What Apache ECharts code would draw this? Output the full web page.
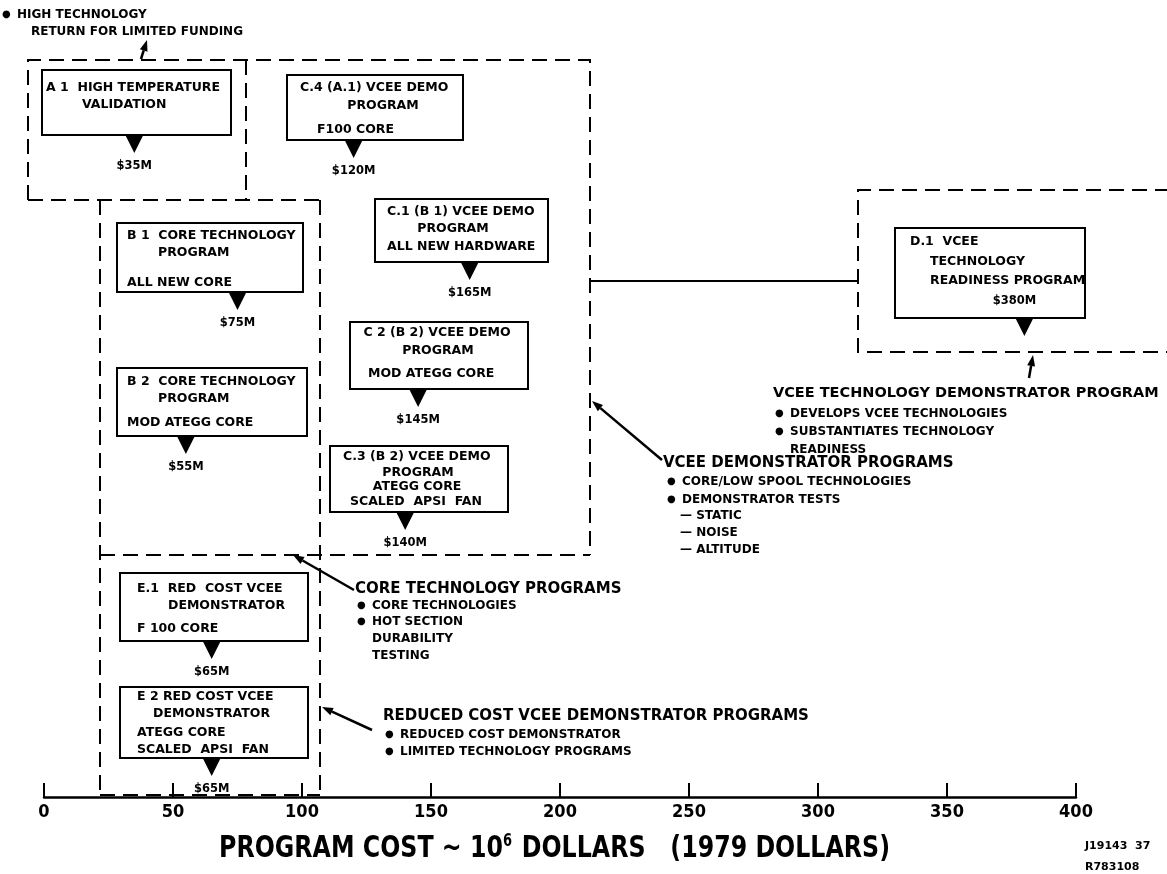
<!DOCTYPE html>
<html><head><meta charset="utf-8">
<script src="https://cdn.jsdelivr.net/npm/echarts@6/dist/echarts.min.js"></script>
<style>html,body{margin:0;padding:0;background:#fff}#c{width:1167px;height:874px}</style>
</head><body><div id="c"></div>
<script>
// ---------- DATA ----------
const programs = ['A.1','C.4','C.1','B.1','B.2','C.2','C.3','D.1','E.1','E.2'];
const costs    = [35, 120, 165, 75, 55, 145, 140, 380, 65, 65];   // program cost, $M (1979)
const xTickValues = [0, 50, 100, 150, 200, 250, 300, 350, 400];
const axisTitleParts = ['PROGRAM COST ~ 10', '6', ' DOLLARS   (1979 DOLLARS)'];
const refCodes = ['J19143  37', 'R783108'];

const boxText = {
  'A.1': ['A 1  HIGH TEMPERATURE', 'VALIDATION'],
  'C.4': ['C.4 (A.1) VCEE DEMO', 'PROGRAM', 'F100 CORE'],
  'C.1': ['C.1 (B 1) VCEE DEMO', 'PROGRAM', 'ALL NEW HARDWARE'],
  'B.1': ['B 1  CORE TECHNOLOGY', 'PROGRAM', 'ALL NEW CORE'],
  'B.2': ['B 2  CORE TECHNOLOGY', 'PROGRAM', 'MOD ATEGG CORE'],
  'C.2': ['C 2 (B 2) VCEE DEMO', 'PROGRAM', 'MOD ATEGG CORE'],
  'C.3': ['C.3 (B 2) VCEE DEMO', 'PROGRAM', 'ATEGG CORE', 'SCALED  APSI  FAN'],
  'D.1': ['D.1  VCEE', 'TECHNOLOGY', 'READINESS PROGRAM'],
  'E.1': ['E.1  RED  COST VCEE', 'DEMONSTRATOR', 'F 100 CORE'],
  'E.2': ['E 2 RED COST VCEE', 'DEMONSTRATOR', 'ATEGG CORE', 'SCALED  APSI  FAN']
};
const noteTop = ['HIGH TECHNOLOGY', 'RETURN FOR LIMITED FUNDING'];
const noteTech = ['VCEE TECHNOLOGY DEMONSTRATOR PROGRAM', 'DEVELOPS VCEE TECHNOLOGIES', 'SUBSTANTIATES TECHNOLOGY', 'READINESS'];
const noteDemo = ['VCEE DEMONSTRATOR PROGRAMS', 'CORE/LOW SPOOL TECHNOLOGIES', 'DEMONSTRATOR TESTS', '— STATIC', '— NOISE', '— ALTITUDE'];
const noteCore = ['CORE TECHNOLOGY PROGRAMS', 'CORE TECHNOLOGIES', 'HOT SECTION', 'DURABILITY', 'TESTING'];
const noteRed  = ['REDUCED COST VCEE DEMONSTRATOR PROGRAMS', 'REDUCED COST DEMONSTRATOR', 'LIMITED TECHNOLOGY PROGRAMS'];

// ---------- LAYOUT (pixel positions, not data) ----------
const layout = {
  'A.1': {rect:[42,70,231,135],  lines:[[46,88,'left'],[82,105,'left']]},
  'C.4': {rect:[287,75,463,140], lines:[[300,88,'left'],[383,106,'center'],[317,130,'left']]},
  'C.1': {rect:[375,199,548,262],lines:[[387,212,'left'],[453,229,'center'],[387,247,'left']]},
  'B.1': {rect:[117,223,303,292],lines:[[127,236,'left'],[158,253,'left'],[127,283,'left']]},
  'B.2': {rect:[117,368,307,436],lines:[[127,382,'left'],[158,399,'left'],[127,423,'left']]},
  'C.2': {rect:[350,322,528,389],lines:[[437,333,'center'],[438,351,'center'],[368,374,'left']]},
  'C.3': {rect:[330,446,508,512],lines:[[343,457,'left'],[418,473,'center'],[417,487,'center'],[350,502,'left']]},
  'D.1': {rect:[895,228,1085,318],lines:[[910,242,'left'],[930,262,'left'],[930,281,'left']]},
  'E.1': {rect:[120,573,308,641],lines:[[137,589,'left'],[168,606,'left'],[137,629,'left']]},
  'E.2': {rect:[120,687,308,758],lines:[[137,697,'left'],[153,714,'left'],[137,733,'left'],[137,750,'left']]}
};
const TRI = 18;

const FONT = "'DejaVu Sans', 'Liberation Sans', Arial, sans-serif";
const NARROW = "'DejaVu Sans Condensed', 'DejaVu Sans', sans-serif";

function txt(t, x, y, size, align, weight) {
  align = align || 'left';
  return {type:'text', silent:true, z:10,
    style:{text:t, x:x, y:y, font:(weight||'bold') + ' ' + size + 'px ' + FONT, fill:'#000',
      textAlign:align, textVerticalAlign:'middle', align:align, verticalAlign:'middle'}};
}
function dashed(points) {
  return {type:'polyline', silent:true, shape:{points:points},
    style:{stroke:'#000', lineWidth:2, lineDash:[15,8], fill:null}};
}
function solid(points, w) {
  return {type:'polyline', silent:true, shape:{points:points},
    style:{stroke:'#000', lineWidth:w||2, fill:null}};
}
function arrow(x1, y1, x2, y2) {
  const a = Math.atan2(y2 - y1, x2 - x1), L = 11, W = 4;
  const bx = x2 - L * Math.cos(a), by = y2 - L * Math.sin(a);
  const px = -Math.sin(a) * W, py = Math.cos(a) * W;
  return [solid([[x1,y1],[bx,by]], 2.5),
    {type:'polygon', silent:true, shape:{points:[[x2,y2],[bx+px,by+py],[bx-px,by-py]]}, style:{fill:'#000'}}];
}

const g = [];
// dashed program groupings
g.push(dashed([[28,200],[28,60],[590,60],[590,555]]));
g.push(dashed([[246,60],[246,200]]));
g.push(dashed([[28,200],[320,200]]));
g.push(dashed([[100,200],[100,795]]));
g.push(dashed([[320,200],[320,795]]));
g.push(dashed([[100,555],[590,555]]));
g.push(dashed([[100,795],[320,795]]));
g.push(dashed([[1170,190],[858,190],[858,352],[1170,352]]));
g.push(solid([[590,281],[858,281]], 2));

// program boxes
programs.forEach(function (p) {
  const L = layout[p], r = L.rect;
  g.push({type:'rect', silent:true, shape:{x:r[0], y:r[1], width:r[2]-r[0], height:r[3]-r[1]},
    style:{fill:'#fff', stroke:'#000', lineWidth:2}});
  boxText[p].forEach(function (t, i) {
    const ln = L.lines[i];
    g.push(txt(t, ln[0], ln[1], 12.5, ln[2]));
  });
});

// annotations
g.push(txt('●', 2, 14, 10)); g.push(txt(noteTop[0], 17, 15, 12));
g.push(txt(noteTop[1], 31, 32, 12));
arrow(141, 59, 147, 40).forEach(e => g.push(e));

g.push(txt(noteTech[0], 773, 393, 14.5));
g.push(txt('●', 775, 413, 10)); g.push(txt(noteTech[1], 790, 414, 12));
g.push(txt('●', 775, 431, 10)); g.push(txt(noteTech[2], 790, 432, 12));
g.push(txt(noteTech[3], 790, 450, 12));
arrow(1029, 378, 1033, 355).forEach(e => g.push(e));

g.push(txt(noteDemo[0], 663, 463, 15));
g.push(txt('●', 667, 481, 10)); g.push(txt(noteDemo[1], 682, 482, 12));
g.push(txt('●', 667, 499, 10)); g.push(txt(noteDemo[2], 682, 500, 12));
g.push(txt(noteDemo[3], 680, 516, 12));
g.push(txt(noteDemo[4], 680, 533, 12));
g.push(txt(noteDemo[5], 680, 550, 12));
arrow(662, 460, 592, 401).forEach(e => g.push(e));

g.push(txt(noteCore[0], 355, 589, 15));
g.push(txt('●', 357, 605, 10)); g.push(txt(noteCore[1], 372, 606, 12));
g.push(txt('●', 357, 621, 10)); g.push(txt(noteCore[2], 372, 622, 12));
g.push(txt(noteCore[3], 372, 639, 12));
g.push(txt(noteCore[4], 372, 656, 12));
arrow(354, 590, 293, 555).forEach(e => g.push(e));

g.push(txt(noteRed[0], 383, 716, 15));
g.push(txt('●', 385, 734, 10)); g.push(txt(noteRed[1], 400, 735, 12));
g.push(txt('●', 385, 751, 10)); g.push(txt(noteRed[2], 400, 752, 12));
arrow(372, 730, 322, 707).forEach(e => g.push(e));

g.push(txt(refCodes[0], 1085, 846, 11));
g.push(txt(refCodes[1], 1085, 867, 11));

// axis title (condensed by horizontal scaling)
g.push({type:'text', silent:true, x:219, y:849, scaleX:0.765, scaleY:1,
  style:{text:'{a|' + axisTitleParts[0] + '}{s|' + axisTitleParts[1] + '}{a|' + axisTitleParts[2] + '}',
    x:0, y:0, textAlign:'left', textVerticalAlign:'middle', align:'left', verticalAlign:'middle',
    rich:{
      a:{fontFamily:FONT, fontWeight:'bold', fontSize:31, fill:'#000', color:'#000'},
      s:{fontFamily:FONT, fontWeight:'bold', fontSize:17, fill:'#000', color:'#000', verticalAlign:'top', padding:[0,2,14,0]}
    }}});

// triangle markers from cost data
const seriesData = programs.map(function (p, i) {
  const r = layout[p].rect;
  const item = {name:p, value:[costs[i], r[3] + TRI/2]};
  if (p === 'D.1') item.label = {position:'top', distance:11, offset:[-10,0]};
  return item;
});

const chart = echarts.init(document.getElementById('c'), null, {renderer:'canvas'});
chart.setOption({
  animation:false,
  backgroundColor:'#fff',
  grid:{left:44, right:91, top:0, bottom:77, containLabel:false},
  xAxis:{
    type:'value', min:0, max:400, interval:50, position:'bottom',
    axisLine:{onZero:false, lineStyle:{color:'#000', width:2.5}},
    axisTick:{inside:true, length:14, lineStyle:{color:'#000', width:2}},
    splitLine:{show:false},
    axisLabel:{color:'#000', fontFamily:NARROW, fontWeight:'bold', fontSize:18, margin:6,
      formatter:function (v) { return xTickValues.indexOf(v) >= 0 ? String(v) : ''; }}
  },
  yAxis:{type:'value', min:0, max:797, inverse:true, show:false},
  series:[{
    type:'scatter', z:20,
    symbol:'triangle', symbolRotate:180, symbolSize:[TRI, TRI],
    itemStyle:{color:'#000', opacity:1},
    label:{show:true, position:'bottom', distance:7, color:'#000',
      fontFamily:FONT, fontWeight:'bold', fontSize:11.5,
      formatter:function (p) { return '$' + p.value[0] + 'M'; }},
    data:seriesData
  }],
  graphic:{elements:g}
});
</script></body></html>
